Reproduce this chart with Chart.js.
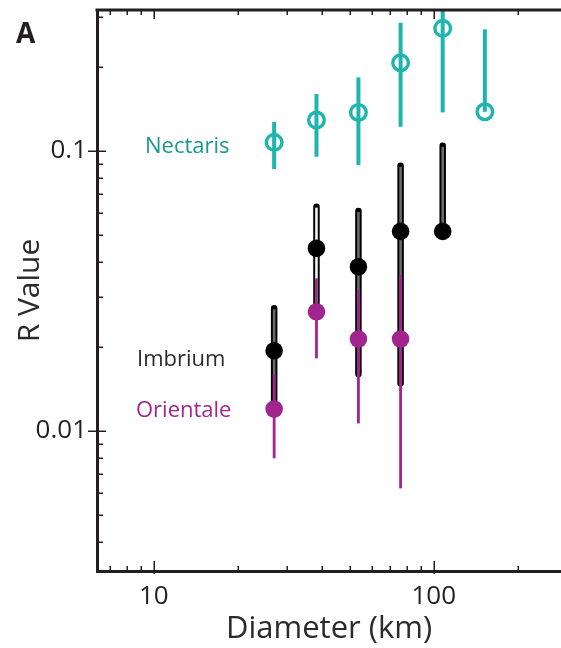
<!DOCTYPE html>
<html><head><meta charset="utf-8">
<script src="https://cdn.jsdelivr.net/npm/chart.js@4.4.1/dist/chart.umd.min.js"></script>
<style>html,body{margin:0;padding:0;background:#fff;overflow:hidden}canvas{display:block}</style>
</head><body>
<canvas id="c" width="561" height="648"></canvas>
<script>
// ---- data ----
const nectarisD    = [26.9, 38.1, 53.8, 76.1, 107.6, 152.2];
const nectarisR    = [0.1074, 0.129, 0.1374, 0.2067, 0.2743, 0.1381];
const nectarisLow  = [0.0862, 0.0954, 0.0891, 0.1221, 0.1374, 0.1381];
const nectarisHigh = [0.1272, 0.1598, 0.1833, 0.2872, 0.33, 0.2721];

const imbriumD    = [26.9, 38.1, 53.8, 76.1, 107.6];
const imbriumR    = [0.01936, 0.04494, 0.03863, 0.05165, 0.05165];
const imbriumLow  = [0.0127, 0.0282, 0.01598, 0.01481, 0.05165];
const imbriumHigh = [0.02743, 0.0633, 0.06105, 0.0886, 0.1044];

const orientaleD    = [26.9, 38.1, 53.8, 76.1];
const orientaleR    = [0.01198, 0.02668, 0.02131, 0.02131];
const orientaleLow  = [0.00799, 0.01818, 0.01065, 0.00624];
const orientaleHigh = [0.01585, 0.0351, 0.03188, 0.03606];

const xTickValues = [7, 8, 9, 10, 20, 30, 40, 50, 60, 70, 80, 90, 100, 200];
const xMajorTicks = [10, 100];
const xTickLabels = ['10', '100'];
const yTickValues = [0.004, 0.005, 0.006, 0.007, 0.008, 0.009, 0.01, 0.02, 0.03, 0.04, 0.05, 0.06, 0.07, 0.08, 0.09, 0.1, 0.2, 0.3];
const yMajorTicks = [0.01, 0.1];
const yTickLabels = ['0.01', '0.1'];

const seriesLabels = ['Nectaris', 'Imbrium', 'Orientale'];

// ---- styles ----
const TEAL = '#1db5ad', TEAL_TEXT = '#17998b';
const PURPLE = '#a1248f';
const INK = '#231f20';
const imbriumBarInner = ['#6b6b6b', '#f4f4f4', '#6b6b6b', '#6b6b6b', '#6b6b6b'];
const FONT = '"Open Sans", "Noto Sans", sans-serif';

const pts = (xs, ys) => xs.map((x, i) => ({x: x, y: ys[i]}));
const noPad = s => { s.paddingTop = 0; s.paddingBottom = 0; s.paddingLeft = 0; s.paddingRight = 0; };

const errorBars = {
  id: 'errorBars',
  beforeDatasetsDraw(chart) {
    const {ctx, chartArea, scales: {x, y}} = chart;
    ctx.save();
    ctx.beginPath();
    ctx.rect(chartArea.left, chartArea.top, chartArea.right - chartArea.left, chartArea.bottom - chartArea.top);
    ctx.clip();
    // Nectaris
    ctx.strokeStyle = TEAL; ctx.lineWidth = 4; ctx.lineCap = 'butt';
    nectarisD.forEach((d, i) => {
      const px = x.getPixelForValue(d);
      ctx.beginPath();
      ctx.moveTo(px, y.getPixelForValue(nectarisLow[i]));
      ctx.lineTo(px, y.getPixelForValue(nectarisHigh[i]));
      ctx.stroke();
    });
    // Imbrium (outlined bars)
    imbriumD.forEach((d, i) => {
      const px = x.getPixelForValue(d);
      const yl = y.getPixelForValue(imbriumLow[i]);
      const yh = y.getPixelForValue(imbriumHigh[i]);
      ctx.strokeStyle = '#000'; ctx.lineWidth = 6.5; ctx.lineCap = 'round';
      ctx.beginPath(); ctx.moveTo(px, yl); ctx.lineTo(px, yh); ctx.stroke();
      ctx.strokeStyle = imbriumBarInner[i]; ctx.lineWidth = 2.6; ctx.lineCap = 'butt';
      ctx.beginPath(); ctx.moveTo(px, yl); ctx.lineTo(px, yh + 1); ctx.stroke();
    });
    // Orientale
    ctx.strokeStyle = PURPLE; ctx.lineWidth = 2.8; ctx.lineCap = 'butt';
    orientaleD.forEach((d, i) => {
      const px = x.getPixelForValue(d);
      ctx.beginPath();
      ctx.moveTo(px, y.getPixelForValue(orientaleLow[i]));
      ctx.lineTo(px, y.getPixelForValue(orientaleHigh[i]));
      ctx.stroke();
    });
    ctx.restore();
  }
};

const frame = {
  id: 'frame',
  afterDraw(chart) {
    const {ctx, chartArea, scales: {x, y}} = chart;
    ctx.save();
    ctx.strokeStyle = INK;
    // top border
    ctx.lineWidth = 3;
    ctx.beginPath();
    ctx.moveTo(chartArea.left - 1.5, chartArea.top);
    ctx.lineTo(chart.width, chartArea.top);
    ctx.stroke();
    ctx.lineWidth = 1.5;
    // x ticks (bottom, inward) and top (inward)
    xTickValues.forEach(v => {
      const px = Math.round(x.getPixelForValue(v)) + 0.25;
      const major = xMajorTicks.includes(v);
      const len = major ? 10 : 5;
      ctx.beginPath();
      ctx.moveTo(px, chartArea.bottom + (major ? 3 : 0));
      ctx.lineTo(px, chartArea.bottom - len);
      ctx.moveTo(px, chartArea.top);
      ctx.lineTo(px, chartArea.top + (major ? 9 : 5));
      ctx.stroke();
    });
    // y ticks (left, inward; majors cross)
    yTickValues.forEach(v => {
      const py = Math.round(y.getPixelForValue(v)) + 0.25;
      const major = yMajorTicks.includes(v);
      ctx.beginPath();
      ctx.moveTo(chartArea.left - (major ? 9 : 0), py);
      ctx.lineTo(chartArea.left + (major ? 9 : 6), py);
      ctx.stroke();
    });
    // panel letter and series labels
    ctx.textBaseline = 'alphabetic';
    ctx.textAlign = 'left';
    ctx.fillStyle = INK;
    ctx.font = 'bold 28px ' + FONT;
    ctx.fillText('A', 16, 43);
    ctx.font = '22px ' + FONT;
    ctx.fillStyle = TEAL_TEXT;
    ctx.fillText(seriesLabels[0], 145, 153);
    ctx.fillStyle = '#2b2b2b';
    ctx.fillText(seriesLabels[1], 137, 366);
    ctx.fillStyle = PURPLE;
    ctx.fillText(seriesLabels[2], 136, 417);
    ctx.restore();
  }
};

new Chart(document.getElementById('c'), {
  type: 'scatter',
  data: {
    datasets: [
      {label: seriesLabels[2], data: pts(orientaleD, orientaleR), pointStyle: 'circle', pointRadius: 8.8,
       backgroundColor: PURPLE, borderColor: PURPLE, borderWidth: 0},
      {label: seriesLabels[1], data: pts(imbriumD, imbriumR), pointStyle: 'circle', pointRadius: 8.8,
       backgroundColor: '#000', borderColor: '#000', borderWidth: 0},
      {label: seriesLabels[0], data: pts(nectarisD, nectarisR), pointStyle: 'circle', pointRadius: 7.8,
       backgroundColor: 'rgba(0,0,0,0)', borderColor: TEAL, borderWidth: 3.4}
    ]
  },
  options: {
    responsive: false,
    devicePixelRatio: 1,
    animation: false,
    events: [],
    layout: {autoPadding: false, padding: {top: 10, right: 0, left: 0, bottom: 0}},
    plugins: {legend: {display: false}, tooltip: {enabled: false}},
    scales: {
      x: {
        type: 'logarithmic',
        position: 'bottom',
        min: 6.266, max: 284.7,
        afterBuildTicks: s => { s.ticks = xTickValues.map(v => ({value: v})); },
        afterFit: s => { s.height = 77; noPad(s); },
        grid: {display: false, drawTicks: false},
        border: {display: true, color: INK, width: 3},
        ticks: {
          autoSkip: false, maxRotation: 0, padding: 10, color: INK,
          font: {family: FONT, size: 26},
          callback: v => { const k = xMajorTicks.indexOf(v); return k >= 0 ? xTickLabels[k] : ''; }
        },
        title: {display: true, text: 'Diameter (km)', color: '#2b2b2b', font: {family: FONT, size: 31}, padding: {top: 0, bottom: 0}}
      },
      y: {
        type: 'logarithmic',
        position: 'left',
        min: 0.0031623, max: 0.319,
        afterBuildTicks: s => { s.ticks = yTickValues.map(v => ({value: v})); },
        afterFit: s => { s.width = 97; noPad(s); },
        grid: {display: false, drawTicks: false},
        border: {display: true, color: INK, width: 3},
        ticks: {
          autoSkip: false, padding: 10, color: INK,
          font: {family: FONT, size: 26},
          callback: v => { const k = yMajorTicks.indexOf(v); return k >= 0 ? yTickLabels[k] : ''; }
        },
        title: {display: true, text: 'R Value', color: '#2b2b2b', font: {family: FONT, size: 30}, padding: {top: 12, bottom: 0}}
      }
    }
  },
  plugins: [errorBars, frame]
});
</script>
</body></html>
